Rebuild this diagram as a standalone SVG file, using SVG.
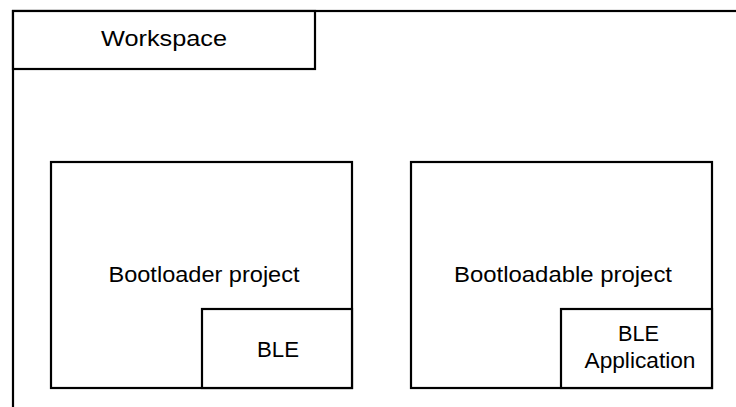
<svg xmlns="http://www.w3.org/2000/svg" width="736" height="407" viewBox="0 0 736 407">
<style>
  .box { fill: #ffffff; stroke: #000000; stroke-width: 2.2; }
  .lbl { font-family: "Liberation Sans", Arial, sans-serif; font-size: 21.5px; fill: #000000; text-anchor: middle; }
</style>
<rect x="0" y="0" width="736" height="407" fill="#ffffff"/>
<g id="workspace">
  <rect class="box" x="13" y="11" width="740" height="410"/>
  <rect class="box" x="13" y="11" width="302" height="58"/>
  <text class="lbl" x="164" y="46" textLength="126" lengthAdjust="spacingAndGlyphs">Workspace</text>
</g>
<g id="bootloader">
  <rect class="box" x="51" y="162" width="301" height="226"/>
  <text class="lbl" x="204" y="282" textLength="191" lengthAdjust="spacingAndGlyphs">Bootloader project</text>
</g>
<g id="ble">
  <rect class="box" x="202" y="309" width="150" height="79"/>
  <text class="lbl" x="278" y="357" textLength="42" lengthAdjust="spacingAndGlyphs">BLE</text>
</g>
<g id="bootloadable">
  <rect class="box" x="411" y="162" width="301" height="226"/>
  <text class="lbl" x="563" y="282" textLength="218" lengthAdjust="spacingAndGlyphs">Bootloadable project</text>
</g>
<g id="ble-application">
  <rect class="box" x="561" y="309" width="151" height="79"/>
  <text class="lbl" x="638.5" y="341" textLength="41" lengthAdjust="spacingAndGlyphs">BLE</text>
  <text class="lbl" x="640" y="368" textLength="111" lengthAdjust="spacingAndGlyphs">Application</text>
</g>
<g id="connectors"></g>
</svg>
